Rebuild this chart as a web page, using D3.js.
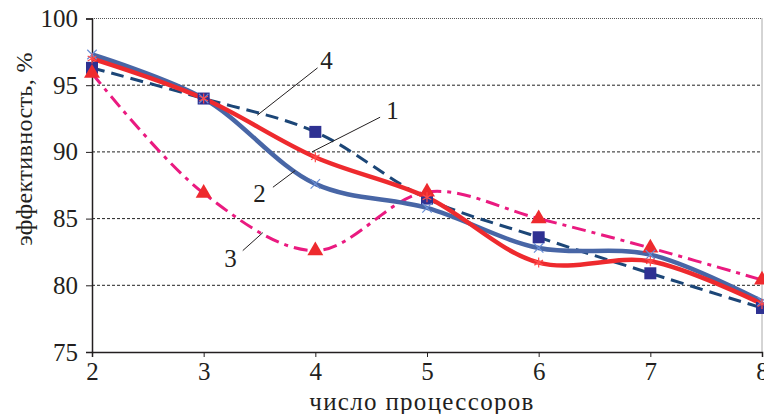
<!DOCTYPE html>
<html>
<head>
<meta charset="utf-8">
<script src="https://cdn.jsdelivr.net/npm/d3@7"></script>
<style>
  body { margin: 0; background: #fff; }
  svg text { font-family: "Liberation Serif"; }
</style>
</head>
<body>
<svg id="chart" width="764" height="414" font-family="Liberation Serif"></svg>
<script>
// число процессоров
const processors = [2, 3, 4, 5, 6, 7, 8];
// эффективность, % по кривым 1..4
const series1 = [97.0, 94.0, 89.6, 86.6, 81.7, 81.8, 78.6];
const series2 = [97.3, 94.0, 87.6, 85.8, 82.8, 82.3, 78.8];
const series3 = [95.9, 86.9, 82.6, 87.0, 85.0, 82.8, 80.4];
const series4 = [96.3, 94.0, 91.5, 86.5, 83.6, 80.9, 78.3];
const yTicks = [75, 80, 85, 90, 95, 100];
const xTicks = [2, 3, 4, 5, 6, 7, 8];

// labels 1..4 with leader lines, in data units
const labels = [
  {text: "4", x: 4.10, y: 96.9, from: [4.02, 96.3], to: [3.48, 92.75]},
  {text: "1", x: 4.69, y: 93.1, from: [4.58, 92.6], to: [3.97, 90.0]},
  {text: "2", x: 3.50, y: 86.9, from: [3.62, 87.35], to: [3.82, 88.6]},
  {text: "3", x: 3.24, y: 82.0, from: [3.35, 82.6], to: [3.53, 83.95]}
];

const fontName = "Liberation Serif";
const ink = "#231f20";

const margin = {top: 18.5, right: 2, bottom: 62, left: 92};
const width = 764, height = 414;

const svg = d3.select("#chart");

const x = d3.scaleLinear()
  .domain([2, 8])
  .range([margin.left, width - margin.right]);

const y = d3.scaleLinear()
  .domain([75, 100])
  .range([height - margin.bottom, margin.top]);

// grid lines
svg.append("g")
  .selectAll("line")
  .data(yTicks.filter(d => d > 75 && d < 100))
  .enter()
  .append("line")
  .attr("x1", x(2)).attr("x2", x(8))
  .attr("y1", d => y(d)).attr("y2", d => y(d))
  .attr("stroke", "#222")
  .attr("stroke-width", 1)
  .attr("stroke-dasharray", "3,2");

// top and right borders (dotted)
svg.append("path")
  .attr("d", `M${x(2)},${y(100)}H${x(8)}V${y(75)}`)
  .attr("fill", "none")
  .attr("stroke", "#555")
  .attr("stroke-width", 1)
  .attr("stroke-dasharray", "1,1");

// axes
const yAxis = svg.append("g")
  .attr("transform", "translate(" + x(2) + ",0)")
  .call(d3.axisLeft(y).tickValues(yTicks).tickSize(6).tickPadding(8).tickFormat(d3.format("d")));

const xAxis = svg.append("g")
  .attr("transform", "translate(0," + y(75) + ")")
  .call(d3.axisBottom(x).tickValues(xTicks).tickSize(5).tickPadding(5).tickFormat(d3.format("d")));

[yAxis, xAxis].forEach(g => {
  g.attr("font-family", fontName).attr("font-size", 25);
  g.selectAll("text")
    .attr("font-family", fontName)
    .attr("fill", ink);
});
svg.selectAll(".domain").attr("stroke", ink).attr("stroke-width", 1.5);
svg.selectAll(".tick line").attr("stroke", ink);

// axis titles
svg.append("text")
  .attr("x", 422).attr("y", 410)
  .attr("text-anchor", "middle")
  .attr("font-family", fontName)
  .attr("font-size", 25)
  .attr("letter-spacing", 1.3)
  .attr("fill", ink)
  .text("число процессоров");

svg.append("text")
  .attr("transform", "translate(32,149) rotate(-90)")
  .attr("text-anchor", "middle")
  .attr("font-family", fontName)
  .attr("font-size", 24)
  .attr("letter-spacing", 0.4)
  .attr("fill", ink)
  .text("эффективность, %");

const line = vals => d3.line()
  .x((d, i) => x(processors[i]))
  .y(d => y(d))
  .curve(d3.curveCatmullRom.alpha(0.5))(vals);

// series 4: dark dashed, squares
svg.append("path")
  .attr("d", line(series4))
  .attr("fill", "none")
  .attr("stroke", "#1c4677")
  .attr("stroke-width", 3)
  .attr("stroke-dasharray", "13,7");

// series 3: magenta dash-dot, triangles
svg.append("path")
  .attr("d", line(series3))
  .attr("fill", "none")
  .attr("stroke", "#ea1a80")
  .attr("stroke-width", 3)
  .attr("stroke-dasharray", "14,6,4,6");

// series 2: blue solid
svg.append("path")
  .attr("d", line(series2))
  .attr("fill", "none")
  .attr("stroke", "#4866a6")
  .attr("stroke-width", 4.5);

// series 1: red solid
svg.append("path")
  .attr("d", line(series1))
  .attr("fill", "none")
  .attr("stroke", "#ee2a2e")
  .attr("stroke-width", 4.5);

// markers
svg.append("g")
  .selectAll("rect")
  .data(series4)
  .enter()
  .append("rect")
  .attr("x", (d, i) => x(processors[i]) - 6)
  .attr("y", d => y(d) - 6)
  .attr("width", 12).attr("height", 12)
  .attr("fill", "#2e3192");

svg.append("g")
  .selectAll("path")
  .data(series3)
  .enter()
  .append("path")
  .attr("d", d3.symbol(d3.symbolTriangle, 110))
  .attr("transform", (d, i) => "translate(" + x(processors[i]) + "," + y(d) + ")")
  .attr("fill", "#ee2a2e");

svg.append("g")
  .selectAll("path")
  .data(series2)
  .enter()
  .append("path")
  .attr("d", d3.symbol(d3.symbolX, 60))
  .attr("transform", (d, i) => "translate(" + x(processors[i]) + "," + y(d) + ")")
  .attr("fill", "none")
  .attr("stroke", "#6a8fd6")
  .attr("stroke-width", 1.2);

svg.append("g")
  .selectAll("path")
  .data(series1)
  .enter()
  .append("path")
  .attr("d", d3.symbol(d3.symbolAsterisk, 70))
  .attr("transform", (d, i) => "translate(" + x(processors[i]) + "," + y(d) + ")")
  .attr("fill", "none")
  .attr("stroke", "#ff4a4a")
  .attr("stroke-width", 1.2);

// curve labels
const ann = svg.append("g");
ann.selectAll("line")
  .data(labels)
  .enter()
  .append("line")
  .attr("x1", d => x(d.from[0])).attr("y1", d => y(d.from[1]))
  .attr("x2", d => x(d.to[0])).attr("y2", d => y(d.to[1]))
  .attr("stroke", ink)
  .attr("stroke-width", 1);
ann.selectAll("text")
  .data(labels)
  .enter()
  .append("text")
  .attr("x", d => x(d.x)).attr("y", d => y(d.y))
  .attr("dy", "0.35em")
  .attr("text-anchor", "middle")
  .attr("font-family", fontName)
  .attr("font-size", 25)
  .attr("fill", ink)
  .text(d => d.text);
</script>
</body>
</html>
